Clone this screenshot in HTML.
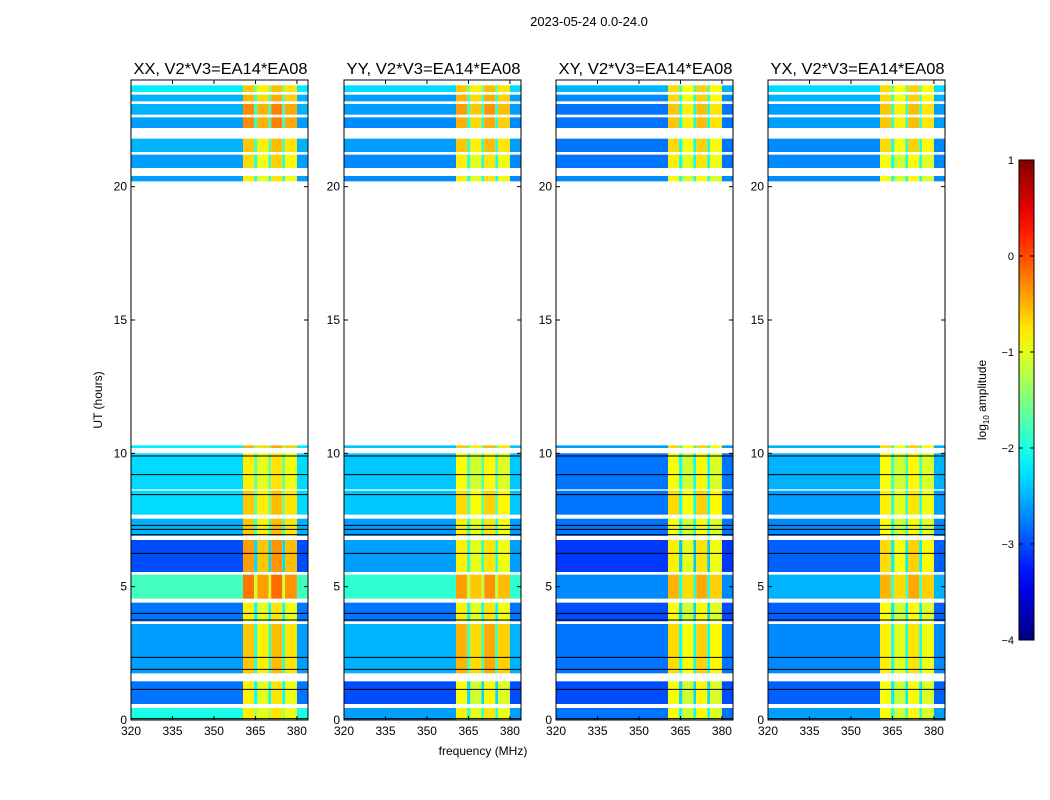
<!DOCTYPE html>
<html><head><meta charset="utf-8"><style>
html,body{margin:0;padding:0;background:#fff;}
svg{display:block;font-family:"Liberation Sans",sans-serif;}
</style></head><body>
<svg id="chart" width="1050" height="800" viewBox="0 0 1050 800">
<text x="589" y="26" font-size="13" text-anchor="middle">2023-05-24 0.0-24.0</text>
<text x="483" y="755" font-size="12" text-anchor="middle">frequency (MHz)</text>
<text transform="translate(102,400) rotate(-90)" font-size="12" text-anchor="middle">UT (hours)</text>
<g id="panels"></g>
<g id="cbar"></g>
</svg>
<script>
const panelTitles = ["XX, V2*V3=EA14*EA08","YY, V2*V3=EA14*EA08","XY, V2*V3=EA14*EA08","YX, V2*V3=EA14*EA08"];
const timeSegments = [[0,0.45],[0.6,1.45],[1.75,3.6],[3.7,4.4],[4.55,5.45],[5.55,6.75],[6.9,7.55],[7.7,8.6],[8.65,10.0],[10.2,10.3],[20.2,20.4],[20.7,21.2],[21.3,21.8],[22.2,22.6],[22.7,23.1],[23.2,23.45],[23.55,23.8]];
const baseXX = [-2.0,-2.8,-2.6,-2.8,-1.8,-3.0,-2.5,-2.3,-2.3,-2.2,-2.6,-2.6,-2.5,-2.6,-2.5,-2.5,-2.2];
const baseYY = [-2.6,-3.0,-2.5,-2.8,-1.9,-2.6,-2.6,-2.4,-2.4,-2.4,-2.7,-2.7,-2.6,-2.7,-2.6,-2.6,-2.3];
const baseXY = [-2.8,-3.0,-2.8,-3.0,-2.7,-3.1,-2.8,-2.8,-2.8,-2.6,-2.7,-2.8,-2.8,-2.8,-2.8,-2.7,-2.5];
const baseYX = [-2.6,-2.9,-2.7,-2.9,-2.5,-2.9,-2.7,-2.6,-2.5,-2.5,-2.7,-2.7,-2.7,-2.6,-2.6,-2.5,-2.3];
const highXX = [-0.8,-0.8,-0.6,-0.8,-0.2,-0.4,-0.6,-0.6,-0.8,-0.5,-0.8,-0.7,-0.6,-0.3,-0.3,-0.5,-0.6];
const highYY = [-0.8,-0.9,-0.5,-0.8,-0.4,-0.8,-0.8,-0.7,-0.9,-0.6,-0.8,-0.8,-0.6,-0.5,-0.4,-0.5,-0.6];
const highXY = [-0.9,-0.9,-0.7,-0.9,-0.5,-0.8,-0.9,-0.7,-0.9,-0.7,-0.9,-0.8,-0.7,-0.6,-0.6,-0.7,-0.7];
const highYX = [-0.9,-0.9,-0.8,-0.9,-0.5,-0.7,-0.9,-0.8,-0.9,-0.7,-0.9,-0.9,-0.7,-0.6,-0.6,-0.7,-0.7];
const freqEdges = [320,360.5,364.5,365.7,369.7,370.7,374.7,375.7,380,384];
const freqKinds = ["base","high","line","high","line","high","line","high","base"];
const highOffsets = [0,-0.2,0.05,-0.15];
const blackLines = [0.05,1.15,1.9,2.35,3.75,4.0,6.25,6.95,7.15,7.3,8.45,9.2,9.9];
const xTicks = [320,335,350,365,380];
const yTicks = [0,5,10,15,20];
const cbTicks = [1,0,-1,-2,-3,-4];
const panelLefts = [131,344,556,768];
const baseAll=[baseXX,baseYY,baseXY,baseYX], highAll=[highXX,highYY,highXY,highYX];
const NS="http://www.w3.org/2000/svg";
const PW=177, TOP=80, BOT=720;
function yS(h){return BOT-(h/24)*(BOT-TOP);}
function xS(f,x0){return x0+(f-320)/(384-320)*PW;}
function jet(v){let t=Math.max(0,Math.min(1,(v+4)/5));
 const c=x=>Math.round(255*Math.max(0,Math.min(1,1.5-Math.abs(4*t-x))));
 return `rgb(${c(3)},${c(2)},${c(1)})`;}
function mk(tag,attrs,parent){const e=document.createElementNS(NS,tag);for(const k in attrs)e.setAttribute(k,attrs[k]);parent.appendChild(e);return e;}
const panels=document.getElementById('panels');
panelTitles.forEach((title,p)=>{
 const x0=panelLefts[p];
 const g=mk('g',{},panels);
 
 
 timeSegments.forEach((seg,s)=>{
  const y1=yS(seg[1]), y2=yS(seg[0]);
  let hi=0;
  freqKinds.forEach((k,c)=>{
   let v;
   if(k==="base") v=baseAll[p][s];
   else if(k==="line") v=baseAll[p][s]+0.7;
   else {v=highAll[p][s]+highOffsets[hi];hi++;}
   const xa=xS(freqEdges[c],x0), xb=xS(freqEdges[c+1],x0);
   const r=mk('rect',{x:xa,y:y1,width:xb-xa,height:y2-y1,fill:jet(v)},g);
   
   
  });
 });
 blackLines.forEach(h=>{const l=mk('line',{x1:x0,x2:x0+PW,y1:yS(h),y2:yS(h),stroke:'#000','stroke-width':1},g);
  
  });
 const fr=mk('rect',{x:x0,y:TOP,width:PW,height:BOT-TOP,fill:'none',stroke:'#000','stroke-width':1},g);
 
 
 const tt=mk('text',{x:x0+PW/2+1,y:74,'font-size':16,'text-anchor':'middle',textLength:174,lengthAdjust:'spacingAndGlyphs'},g);tt.textContent=title;
 
 
 xTicks.forEach(f=>{const x=xS(f,x0);
  mk('line',{x1:x,x2:x,y1:BOT,y2:BOT-4,stroke:'#000'},g);mk('line',{x1:x,x2:x,y1:TOP,y2:TOP+4,stroke:'#000'},g);
  const t=mk('text',{x:x,y:BOT+15,'font-size':12,'text-anchor':'middle'},g);t.textContent=f;
  
  });
 yTicks.forEach(h=>{const y=yS(h);
  mk('line',{x1:x0,x2:x0+4,y1:y,y2:y,stroke:'#000'},g);mk('line',{x1:x0+PW,x2:x0+PW-4,y1:y,y2:y,stroke:'#000'},g);
  const t=mk('text',{x:x0-4,y:y+4,'font-size':12,'text-anchor':'end'},g);t.textContent=h;
  
  });
});
const cb=document.getElementById('cbar');
const CX=1019,CW=15,CT=160,CB=640;
const defs=mk('defs',{},cb);const gr=mk('linearGradient',{id:'jetg',x1:0,y1:1,x2:0,y2:0},defs);
for(let i=0;i<=20;i++){const v=-4+5*i/20;mk('stop',{offset:i/20,'stop-color':jet(v)},gr);}
mk('rect',{x:CX,y:CT,width:CW,height:CB-CT,fill:'url(#jetg)',stroke:'#000','stroke-width':1},cb);
cbTicks.forEach(v=>{const y=CB-(v+4)/5*(CB-CT);
 mk('line',{x1:CX,x2:CX+4,y1:y,y2:y,stroke:'#000'},cb);mk('line',{x1:CX+CW,x2:CX+CW-4,y1:y,y2:y,stroke:'#000'},cb);
 const t=mk('text',{x:1014,y:y+4,'font-size':11,'text-anchor':'end'},cb);t.textContent=v<0?'\u2212'+(-v):String(v);
 
 });
const cl=mk('text',{transform:'translate(986,400) rotate(-90)','font-size':12,'text-anchor':'middle'},cb);
cl.innerHTML='log<tspan font-size="8" dy="3">10</tspan><tspan dy="-3"> amplitude</tspan>';


</script>
</body></html>
